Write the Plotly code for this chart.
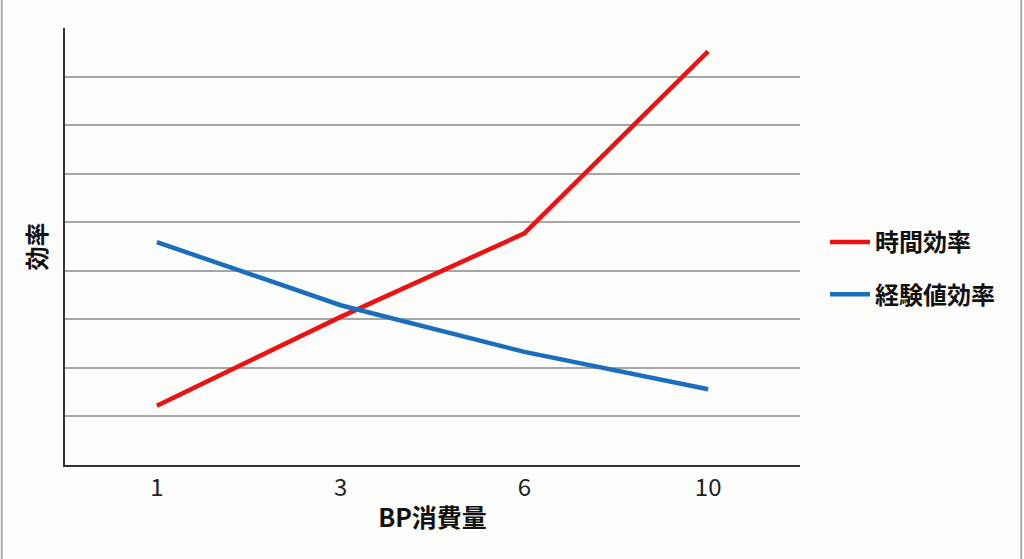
import plotly.graph_objects as go

categories = ["1", "3", "6", "10"]
time_eff = [1.22, 3.05, 4.77, 8.52]
exp_eff = [4.59, 3.29, 2.33, 1.56]
series_names = ["時間効率", "経験値効率"]
colors = ["#ee1111", "#1a6fbd"]

FONT = "Noto Sans CJK JP"

fig = go.Figure()
fig.add_trace(go.Scatter(x=categories, y=time_eff, mode="lines", name="<b>" + series_names[0] + "</b>",
                         line=dict(color=colors[0], width=4.5), legendgroup="a"))
fig.add_trace(go.Scatter(x=categories, y=exp_eff, mode="lines", name="<b>" + series_names[1] + "</b>",
                         line=dict(color=colors[1], width=4.5), legendgroup="b"))

fig.update_layout(
    width=1024, height=559,
    margin=dict(l=65, r=224, t=28, b=94),
    paper_bgcolor="#fdfdfc",
    plot_bgcolor="#fdfdfc",
    font=dict(family=FONT, color="#1a1a1a"),
    showlegend=True,
    legend=dict(x=1.034, xanchor="left", y=0.45, yanchor="middle",
                font=dict(size=24, family=FONT, color="#111"),
                tracegroupgap=18, bgcolor="rgba(0,0,0,0)", itemwidth=40),
    xaxis=dict(type="category", range=[-0.5, 3.5], showgrid=False,
               showline=True, linecolor="#333", linewidth=2,
               ticks="", tickfont=dict(size=24, color="#222", family=FONT),
               title=dict(text="<b>BP消費量</b>", font=dict(size=25, family=FONT, color="#111"), standoff=8),
               fixedrange=True),
    yaxis=dict(range=[0, 9], dtick=1, showticklabels=False, ticks="",
               showgrid=True, gridcolor="#a6a6a6", gridwidth=1.5,
               showline=True, linecolor="#333", linewidth=2, zeroline=False,
               title=dict(text="<b>効率</b>", font=dict(size=24, family=FONT, color="#111"), standoff=10),
               fixedrange=True),
)

# faint page frame (left and right edges)
fig.add_shape(type="line", xref="paper", yref="paper", x0=-0.086, x1=-0.086, y0=-0.215, y1=1.064,
              line=dict(color="#aaaaaa", width=2), layer="below")
fig.add_shape(type="line", xref="paper", yref="paper", x0=1.301, x1=1.301, y0=-0.215, y1=1.064,
              line=dict(color="#aaaaaa", width=2), layer="below")

fig.write_html("out.html", config={"displayModeBar": False},
               post_script="document.body.style.margin='0';")
